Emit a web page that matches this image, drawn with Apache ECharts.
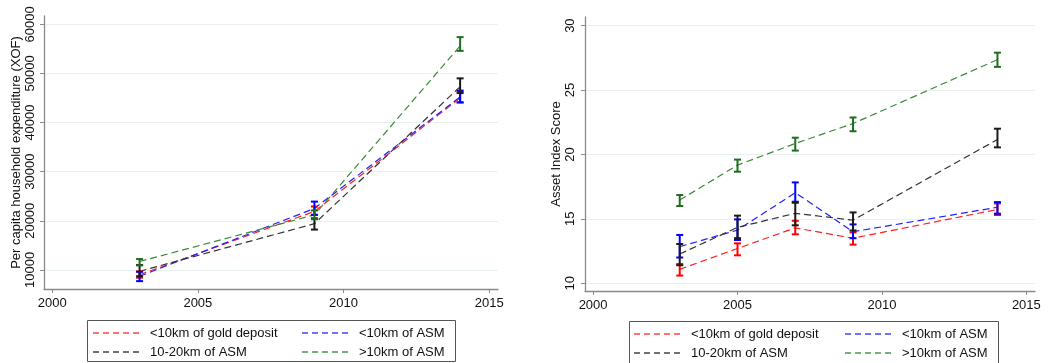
<!DOCTYPE html>
<html>
<head>
<meta charset="utf-8">
<script src="https://cdn.jsdelivr.net/npm/echarts@6/dist/echarts.min.js"></script>
<style>
  html, body { margin: 0; padding: 0; background: #fff; }
  #chart { width: 1049px; height: 363px; }
</style>
</head>
<body>
<div id="chart"></div>
<script>
// Survey years
const yearsExp = [2003, 2009, 2014];
const yearsAsset = [2003, 2005, 2007, 2009, 2014];

// Tick labels
const xTicks = [2000, 2005, 2010, 2015];
const yTicksExp = [10000, 20000, 30000, 40000, 50000, 60000];
const yTicksAsset = [10, 15, 20, 25, 30];

// Group names
const groupNames = ['<10km of gold deposit', '<10km of ASM', '10-20km of ASM', '>10km of ASM'];

// Per capita household expenditure (XOF): mean, lower and upper CI
const expGold = [9000, 21900, 45000];
const expGoldLo = [8400, 21200, 44100];
const expGoldHi = [9700, 22900, 46300];
const expNear = [8700, 22500, 45200];
const expNearLo = [7700, 21200, 44100];
const expNearHi = [9600, 23900, 46500];
const expMid = [9700, 19400, 47300];
const expMidLo = [8700, 18200, 46000];
const expMidHi = [11000, 20500, 49000];
const expFar = [11700, 21200, 55600];
const expFarLo = [10900, 20300, 54600];
const expFarHi = [12200, 22100, 57400];

// Asset index score: mean, lower and upper CI
const astGold = [11.08, 12.7, 14.3, 13.5, 15.73];
const astGoldLo = [10.6, 12.17, 13.8, 13.0, 15.3];
const astGoldHi = [11.5, 13.1, 14.85, 13.95, 16.2];
const astNear = [12.84, 14.13, 17.03, 14.0, 15.9];
const astNearLo = [12.0, 13.36, 16.33, 13.5, 15.4];
const astNearHi = [13.75, 14.96, 17.83, 14.57, 16.3];
const astMid = [12.27, 14.34, 15.43, 14.9, 21.16];
const astMidLo = [11.4, 13.5, 14.5, 14.1, 20.55];
const astMidHi = [13.05, 15.25, 16.25, 15.5, 22.0];
const astFar = [16.46, 19.17, 20.85, 22.4, 27.36];
const astFarLo = [16.0, 18.66, 20.3, 21.8, 26.8];
const astFarHi = [16.85, 19.6, 21.3, 22.87, 27.9];

const FONT = 'Liberation Sans, Arial, sans-serif';
const lineColors = ['#ff2222', '#2222ff', '#333333', '#3a8a3a'];
const keyColors = ['#ff4444', '#4444ff', '#444444', '#4c944c'];
const barColors = ['#ff0000', '#0000ff', '#1a1a1a', '#1f6e1f'];

const pairs = (xs, ys) => xs.map((x, i) => [x, ys[i]]);
const triples = (xs, lo, hi) => xs.map((x, i) => [x, lo[i], hi[i]]);

function errorBar(color) {
  return function (params, api) {
    const x = api.value(0);
    const top = api.coord([x, api.value(2)]);
    const bot = api.coord([x, api.value(1)]);
    const w = 3.5;
    const st = { stroke: color, lineWidth: 2 };
    return {
      type: 'group',
      children: [
        { type: 'line', shape: { x1: top[0], y1: top[1], x2: bot[0], y2: bot[1] }, style: st },
        { type: 'line', shape: { x1: top[0] - w, y1: top[1], x2: top[0] + w, y2: top[1] }, style: st },
        { type: 'line', shape: { x1: bot[0] - w, y1: bot[1], x2: bot[0] + w, y2: bot[1] }, style: st }
      ]
    };
  };
}

function lineSeries(panel, g, xs, ys) {
  return {
    type: 'line', name: groupNames[g], xAxisIndex: panel, yAxisIndex: panel,
    data: pairs(xs, ys), symbol: 'none', showSymbol: false,
    lineStyle: { color: lineColors[g], width: 1.2, type: [7, 4] },
    itemStyle: { color: lineColors[g] },
    z: 2, silent: true
  };
}

function ciSeries(panel, g, xs, lo, hi) {
  return {
    type: 'custom', name: groupNames[g] + ' CI', xAxisIndex: panel, yAxisIndex: panel,
    data: triples(xs, lo, hi),
    renderItem: errorBar(barColors[g]),
    encode: { x: 0, y: [1, 2] }, z: 3, silent: true
  };
}

function xAxisCfg(idx) {
  return {
    type: 'value', gridIndex: idx, min: 1999.72, max: 2015.3,
    axisLine: { lineStyle: { color: '#8a8a8a', width: 1.3 } },
    axisTick: { show: true, length: 4, customValues: xTicks, lineStyle: { color: '#8a8a8a' } },
    axisLabel: { customValues: xTicks, formatter: v => String(v), color: '#111', fontSize: 13, fontFamily: FONT, margin: 8 },
    splitLine: { show: false }
  };
}

function yAxisCfg(idx, min, max, ticks, name, margin) {
  return {
    type: 'value', gridIndex: idx, min: min, max: max,
    name: name, nameLocation: 'middle', nameGap: 21,
    nameTextStyle: { color: '#111', fontSize: 13, fontFamily: FONT },
    axisLine: { show: true, lineStyle: { color: '#8a8a8a', width: 1.3 } },
    axisTick: { show: true, length: 4, customValues: ticks, lineStyle: { color: '#8a8a8a' } },
    axisLabel: { customValues: ticks, rotate: 90, formatter: v => String(v), color: '#111', fontSize: 13, fontFamily: FONT, margin: margin },
    splitLine: { show: true, lineStyle: { color: '#e9f0f0', width: 1 } }
  };
}

// Boxed 2x2 key: dashed swatch + label per group
function keyBox(boxX, boxY, boxW, boxH, col1X, col2X, row1Y) {
  const items = [];
  items.push({ type: 'rect', shape: { x: boxX + 0.5, y: boxY + 0.5, width: boxW, height: boxH },
    style: { fill: 'none', stroke: '#555', lineWidth: 1 } });
  const slots = [[col1X, row1Y], [col2X, row1Y], [col1X, row1Y + 19], [col2X, row1Y + 19]];
  [0, 1, 2, 3].forEach((g, k) => {
    const [x, y] = slots[k];
    items.push({ type: 'line', shape: { x1: x, y1: y, x2: x + 50, y2: y },
      style: { stroke: keyColors[g], lineWidth: 1.6, lineDash: [6, 4] } });
    items.push({ type: 'text', x: x + 57, y: y,
      style: { text: groupNames[g], fill: '#111', font: '13px ' + FONT, verticalAlign: 'middle', align: 'left' } });
  });
  return items;
}

const chart = echarts.init(document.getElementById('chart'), null, { renderer: 'canvas' });
chart.setOption({
  animation: false,
  backgroundColor: '#fff',
  grid: [
    { left: 44, right: 551, top: 16, bottom: 74 },
    { left: 585, right: 14, top: 17, bottom: 72 }
  ],
  xAxis: [xAxisCfg(0), xAxisCfg(1)],
  yAxis: [
    yAxisCfg(0, 6100, 61700, yTicksExp, 'Per capita household expenditure (XOF)', 7),
    yAxisCfg(1, 9.4, 30.67, yTicksAsset, 'Asset Index Score', 8)
  ],
  graphic: [
    ...keyBox(87, 320, 368, 41, 93, 302, 333),
    ...keyBox(629, 321, 369, 50, 634, 845, 334)
  ],
  series: [
    lineSeries(0, 0, yearsExp, expGold),
    lineSeries(0, 1, yearsExp, expNear),
    lineSeries(0, 2, yearsExp, expMid),
    lineSeries(0, 3, yearsExp, expFar),
    ciSeries(0, 0, yearsExp, expGoldLo, expGoldHi),
    ciSeries(0, 1, yearsExp, expNearLo, expNearHi),
    ciSeries(0, 2, yearsExp, expMidLo, expMidHi),
    ciSeries(0, 3, yearsExp, expFarLo, expFarHi),
    lineSeries(1, 0, yearsAsset, astGold),
    lineSeries(1, 1, yearsAsset, astNear),
    lineSeries(1, 2, yearsAsset, astMid),
    lineSeries(1, 3, yearsAsset, astFar),
    ciSeries(1, 0, yearsAsset, astGoldLo, astGoldHi),
    ciSeries(1, 1, yearsAsset, astNearLo, astNearHi),
    ciSeries(1, 2, yearsAsset, astMidLo, astMidHi),
    ciSeries(1, 3, yearsAsset, astFarLo, astFarHi)
  ]
});
</script>
</body>
</html>
